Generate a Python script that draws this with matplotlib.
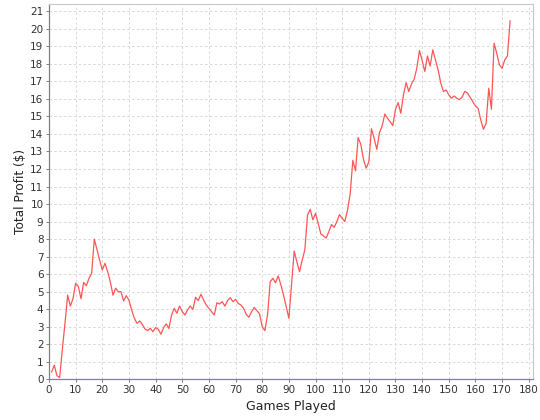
import numpy as np
import matplotlib
matplotlib.use("Agg")
import matplotlib.pyplot as plt
from matplotlib.ticker import MultipleLocator

# cumulative profit after each game
games = np.arange(1, 174)
profit = [
    0.42, 0.8, 0.2, 0.1, 1.7, 3.2, 4.8, 4.18, 4.6, 5.48,
    5.3, 4.6, 5.53, 5.34, 5.76, 6.05, 8.0, 7.4, 6.8, 6.24,
    6.62, 6.14, 5.57, 4.8, 5.2, 5.0, 5.0, 4.47, 4.77, 4.52,
    3.96, 3.5, 3.19, 3.33, 3.14, 2.87, 2.78, 2.91, 2.72, 2.95,
    2.86, 2.57, 2.95, 3.16, 2.9, 3.67, 4.05, 3.77, 4.18, 3.86,
    3.67, 3.96, 4.18, 3.99, 4.68, 4.49, 4.85, 4.53, 4.24, 4.05,
    3.86, 3.67, 4.37, 4.3, 4.43, 4.18, 4.49, 4.66, 4.43, 4.56,
    4.33, 4.24, 4.05, 3.71, 3.54, 3.86, 4.1, 3.92, 3.73, 3.0,
    2.78, 3.67, 5.57, 5.76, 5.51, 5.9, 5.39, 4.81, 4.15, 3.48,
    5.4, 7.32, 6.7, 6.14, 6.8, 7.4, 9.38, 9.7, 9.1, 9.47,
    8.9, 8.29, 8.18, 8.06, 8.43, 8.83, 8.67, 9.0, 9.4, 9.19,
    9.0, 9.66, 10.57, 12.5, 11.9, 13.8, 13.4, 12.55, 12.05, 12.4,
    14.3, 13.75, 13.12, 14.08, 14.46, 15.14, 14.9, 14.7, 14.48, 15.4,
    15.79, 15.18, 16.23, 16.93, 16.42, 16.86, 17.12, 17.75, 18.76, 18.2,
    17.56, 18.45, 17.88, 18.8, 18.23, 17.66, 16.9, 16.42, 16.51, 16.23,
    16.04, 16.17, 16.04, 15.96, 16.1, 16.43, 16.34, 16.1, 15.85, 15.6,
    15.47, 14.8, 14.27, 14.6, 16.61, 15.41, 19.18, 18.6, 17.94, 17.75,
    18.23, 18.45, 20.45,
]

fig = plt.figure(figsize=(5.4, 4.2), dpi=100)
ax = fig.add_axes([49 / 540, (420 - 379.3) / 420, (533 - 49) / 540, (379.3 - 4.3) / 420])

ax.plot(games, profit, color="#ff5555", lw=0.9)

ax.set_xlim(0, 181.6)
ax.set_ylim(0, 21.4)
ax.xaxis.set_major_locator(MultipleLocator(10))
ax.yaxis.set_major_locator(MultipleLocator(1))

ax.grid(True, color="#d8d8d8", linestyle=(0, (2.5, 2.5)), lw=0.7)
ax.set_axisbelow(True)

for s in ["top", "right"]:
    ax.spines[s].set_color("#c8c8c8")
    ax.spines[s].set_linewidth(0.8)
ax.spines["left"].set_color("#808080")
ax.spines["bottom"].set_color("#8080a0")
ax.spines["left"].set_linewidth(0.9)
ax.spines["bottom"].set_linewidth(0.9)

ax.tick_params(axis="both", labelsize=7.5, length=2, width=0.7, color="#808080",
               pad=2, labelcolor="#333333")

ax.set_xlabel("Games Played", fontsize=9, color="#222222", labelpad=4)
ax.set_ylabel("Total Profit ($)", fontsize=8.7, color="#222222", labelpad=2)

fig.savefig("out.png", dpi=100)
